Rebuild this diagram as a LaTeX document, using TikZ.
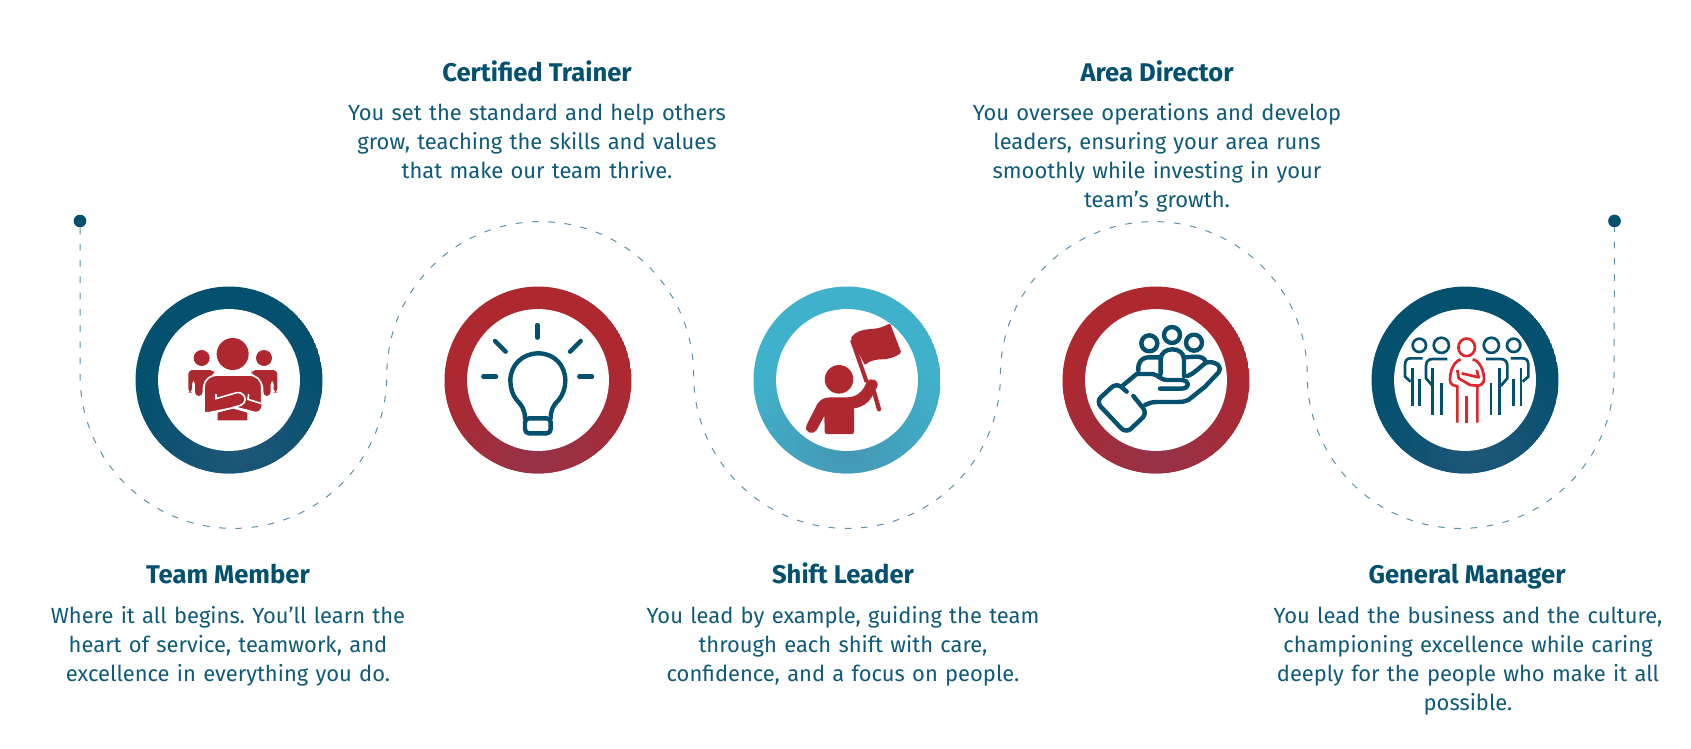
\documentclass[tikz,border=0pt]{standalone}
\usepackage{fontspec}
\setmainfont{Fira Sans}
\frenchspacing
\definecolor{navy}{HTML}{03506F}
\definecolor{bodyblue}{HTML}{0E5A79}
\definecolor{navyglow}{HTML}{1F5678}
\definecolor{crimson}{HTML}{AE2830}
\definecolor{crimsonglow}{HTML}{933349}
\definecolor{teal1}{HTML}{40B1CB}
\definecolor{tealglow}{HTML}{4497B4}
\definecolor{dashblue}{HTML}{5F90AB}
\definecolor{redline}{HTML}{E0262B}
\tikzset{
  x=.75pt,y=-.75pt,
  titletext/.style={text=navy,font=\fontsize{19.2pt}{23pt}\selectfont\bfseries,inner sep=0pt,anchor=base},
  bodytext/.style={text=bodyblue,font=\fontsize{16.45pt}{21.75pt}\selectfont,inner sep=0pt,anchor=north,align=center,text width=340pt},
  stroked/.style={draw=navy,line width=3.3pt,line cap=round,line join=round,fill=none},
  thin/.style={draw=navy,line width=2pt,line cap=butt,line join=round,fill=none},
  thinred/.style={draw=redline,line width=2pt,line cap=butt,line join=round,fill=none},
  enddot/.style={circle,fill=navy,inner sep=0pt,minimum size=9.5pt},
  trail/.style={draw=dashblue,line width=.75pt,dash pattern=on 5pt off 7.2pt},
}
\newcommand{\ring}[5]{%
  \begin{scope}
    \clip (#1,380) circle (70.1pt);
    \fill[#2] (#1,380) circle (70.1pt);
    \shade[inner color=#3,outer color=#2] (#1+#4,380+#5) circle (84pt);
  \end{scope}
  \fill[white] (#1,380) circle (53.2pt);
}
\begin{document}
\begin{tikzpicture}
\useasboundingbox (0,0) rectangle (1691,749);
\fill[white] (0,0) rectangle (1691,749);

% dashed trail
\node[enddot] (dotA) at (80,221) {};
\node[enddot] (dotB) at (1614.5,221) {};
\coordinate (trailA) at (80,375);
\coordinate (trailB) at (1614.5,375);
\draw[trail] (dotA) -- (trailA)
  arc[start angle=180,end angle=360,radius=115.05pt]
  arc[start angle=180,end angle=0,radius=115.05pt]
  arc[start angle=180,end angle=360,radius=115.05pt]
  arc[start angle=180,end angle=0,radius=115.05pt]
  arc[start angle=180,end angle=360,radius=115.05pt]
  -- (dotB);

% rings
\ring{229}{navy}{navyglow}{10}{68}
\ring{538}{crimson}{crimsonglow}{0}{68}
\ring{847}{teal1}{tealglow}{0}{68}
\ring{1156}{crimson}{crimsonglow}{0}{68}
\ring{1465}{navy}{navyglow}{10}{68}

% icon 1: team
\begin{scope}[shift={(120,270)},x=.25pt,y=-.25pt]
  \fill[crimson] (338,252) circle (12pt);
  \fill[crimson] (245,264) circle (6pt);
  \fill[crimson] (432,264) circle (6pt);
  \fill[crimson,rounded corners=3pt] (205,368) -- (205,300) -- (282,300) -- (282,312) -- (248,340) -- (248,378) -- (225,378) -- (225,330) -- (216,330) -- (216,368) -- cycle;
  \fill[crimson,rounded corners=3pt] (472,368) -- (472,300) -- (395,300) -- (395,312) -- (430,340) -- (430,378) -- (452,378) -- (452,330) -- (461,330) -- (461,368) -- cycle;
  \draw[white,line width=1.2pt,fill=crimson] (252,428) -- (252,350) .. controls (252,330) and (270,315) .. (295,315) -- (385,315) .. controls (410,315) and (425,330) .. (425,352) -- (425,392) .. controls (432,405) and (425,428) .. (408,428) -- (345,412) -- (268,428) -- cycle;
  \fill[crimson] (293,428) -- (340,416) -- (382,428) -- (382,451) -- (293,451) -- cycle;
  \draw[white,line width=1.2pt] (288,372) -- (288,386) -- (350,368) .. controls (372,365) and (382,388) .. (372,398) .. controls (365,408) and (352,408) .. (340,412);
  \draw[white,line width=1.2pt] (386,372) -- (384,388) -- (428,402);
\end{scope}

% icon 2: bulb
\begin{scope}[shift={(120,270)},x=.25pt,y=-.25pt]
  \draw[stroked] (1215,445) .. controls (1215,420) and (1205,405) .. (1190,390) .. controls (1178,375) and (1171,355) .. (1171,332) .. controls (1171,285) and (1208,250) .. (1255,250) .. controls (1302,250) and (1336,285) .. (1336,332) .. controls (1336,355) and (1328,375) .. (1316,390) .. controls (1300,405) and (1292,420) .. (1292,445);
  \draw[stroked,rounded corners=3pt] (1215,445) -- (1292,445) -- (1292,490) -- (1215,490) -- cycle;
  \draw[stroked] (1252,165) -- (1252,203);
  \draw[stroked] (1125,213) -- (1157,245);
  \draw[stroked] (1382,213) -- (1350,245);
  \draw[stroked] (1090,320) -- (1128,320);
  \draw[stroked] (1378,320) -- (1416,320);
\end{scope}

% icon 3: flag
\begin{scope}[shift={(740,270)},x=.25pt,y=-.25pt]
  \fill[crimson,rounded corners=1pt] (332,205) .. controls (345,185) and (370,178) .. (395,177) .. controls (420,175) and (435,168) .. (450,160) -- (484,248) .. controls (465,262) and (445,268) .. (420,268) .. controls (400,270) and (385,275) .. (375,286) -- cycle;
  \draw[crimson,line width=3pt] (336,210) -- (380,336);
  \draw[crimson,line width=3.2pt,line cap=round] (402,365) -- (417,418);
  \fill[crimson] (297,328) circle (10.7pt);
  \fill[crimson] (200,465) -- (232,402) .. controls (240,388) and (255,382) .. (272,382) -- (320,382) .. controls (350,382) and (370,365) .. (380,335) .. controls (395,320) and (418,330) .. (412,350) .. controls (405,362) and (403,366) .. (396,380) .. controls (385,400) and (365,412) .. (342,415) -- (342,485) .. controls (342,490) and (340,492) .. (335,492) -- (262,492) .. controls (256,492) and (254,490) .. (254,484) -- (253,437) -- (230,480) .. controls (222,495) and (190,490) .. (200,465) -- cycle;
\end{scope}

% icon 4: hand with people
\begin{scope}[shift={(740,270)},x=.25pt,y=-.25pt]
  \draw[stroked] (1228,220) circle (6pt);
  \draw[stroked] (1296,195) circle (6pt);
  \draw[stroked] (1362,218) circle (6pt);
  \draw[stroked] (1262,312) -- (1262,268) .. controls (1262,248) and (1280,238) .. (1297,238) .. controls (1315,238) and (1332,248) .. (1332,268) -- (1332,318);
  \draw[stroked] (1195,302) .. controls (1193,275) and (1205,262) .. (1228,262) -- (1262,262);
  \draw[stroked] (1332,262) -- (1368,260) .. controls (1385,260) and (1395,265) .. (1398,278);
  \draw[stroked,rounded corners=5pt] (1160,365) -- (1130,338) -- (1068,395) -- (1158,490) -- (1222,430) -- (1180,378);
  \draw[stroked] (1150,345) -- (1190,312) -- (1238,312) .. controls (1255,315) and (1262,330) .. (1280,330) -- (1325,330) .. controls (1350,332) and (1350,355) .. (1325,356) -- (1260,356);
  \draw[stroked] (1342,318) .. controls (1365,310) and (1380,290) .. (1398,278) .. controls (1420,272) and (1450,285) .. (1435,308) -- (1395,350) -- (1345,390) .. controls (1335,395) and (1325,396) .. (1315,396) -- (1250,396) .. controls (1235,396) and (1225,400) .. (1215,405);
\end{scope}

% icon 5: group
\begin{scope}[shift={(1360,270)},x=.25pt,y=-.25pt]
  \draw[thin] (178,226) circle (5pt);
  \draw[thin] (244,226) circle (5.7pt);
  \draw[thin] (394,226) circle (5.7pt);
  \draw[thin] (461,226) circle (5pt);
  \draw[thin] (188,265) -- (152,265) .. controls (140,265) and (135,272) .. (135,285) -- (135,320) -- (152,335);
  \draw[thin] (157,295) -- (157,409);
  \draw[thin] (178,328) -- (178,409);
  \draw[thin] (262,267) -- (218,267) .. controls (205,267) and (198,275) .. (198,288) -- (198,325) -- (218,348);
  \draw[thin] (218,295) -- (218,434);
  \draw[thin] (245,340) -- (245,434);
  \draw[thin] (452,265) -- (488,265) .. controls (500,265) and (505,272) .. (505,285) -- (505,320) -- (488,335);
  \draw[thin] (483,295) -- (483,409);
  \draw[thin] (461,328) -- (461,409);
  \draw[thin] (378,267) -- (422,267) .. controls (435,267) and (442,275) .. (442,288) -- (442,325) -- (422,348);
  \draw[thin] (418,295) -- (418,434);
  \draw[thin] (393,340) -- (393,434);
  \draw[thinred] (320,232) ellipse (6.2pt and 6.6pt);
  \draw[thinred] (302,268) .. controls (282,275) and (270,300) .. (270,330) .. controls (270,342) and (280,348) .. (292,348) -- (292,458);
  \draw[thinred] (338,268) .. controls (358,272) and (372,300) .. (372,328) .. controls (372,340) and (362,347) .. (352,347) -- (352,458);
  \draw[thinred] (319,378) -- (319,458);
  \draw[thinred] (292,300) -- (296,325) -- (330,345) -- (352,347);
  \draw[thinred] (305,310) -- (356,322) -- (350,300);
\end{scope}

% text
\node[titletext] (t1) at (228,583) {Team Member};
\node[bodytext] (b1) at (228,606) {Where it all begins. You’ll learn the\\heart of service, teamwork, and\\excellence in everything you do.};
\node[titletext] (t2) at (537,81) {Certified Trainer};
\node[bodytext] (b2) at (537,103.5) {You set the standard and help others\\grow, teaching the skills and values\\that make our team thrive.};
\node[titletext] (t3) at (843,583) {Shift Leader};
\node[bodytext] (b3) at (843,606) {You lead by example, guiding the team\\through each shift with care,\\confidence, and a focus on people.};
\node[titletext] (t4) at (1157,81) {Area Director};
\node[bodytext] (b4) at (1157,103.5) {You oversee operations and develop\\leaders, ensuring your area runs\\smoothly while investing in your\\team’s growth.};
\node[titletext] (t5) at (1467,583) {General Manager};
\node[bodytext] (b5) at (1468,606) {You lead the business and the culture,\\championing excellence while caring\\deeply for the people who make it all\\possible.};
\end{tikzpicture}
\end{document}
